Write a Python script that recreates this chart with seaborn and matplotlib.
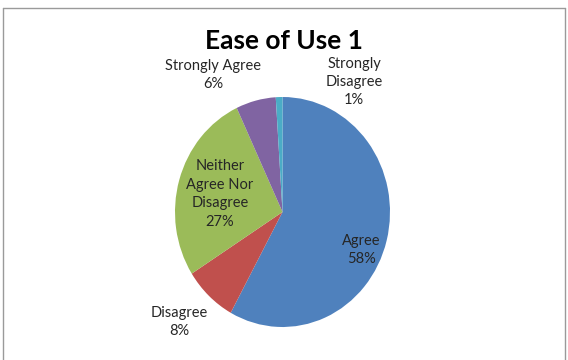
import matplotlib
matplotlib.use("Agg")
import matplotlib.pyplot as plt
import seaborn as sns
from matplotlib.lines import Line2D

categories = ["Agree", "Disagree", "Neither\nAgree Nor\nDisagree", "Strongly Agree", "Strongly\nDisagree"]
values = [58, 8, 27, 6, 1]
colors = ["#4F81BD", "#C0504D", "#9BBB59", "#8064A2", "#4BACC6"]
title = "Ease of Use 1"

sns.set_style("white")
plt.rcParams["font.family"] = ["Lato", "DejaVu Sans"]

W, H = 568, 360
fig = plt.figure(figsize=(W / 100, H / 100), dpi=100)
ax = fig.add_axes([0, 0, 1, 1])

# pie is slightly squeezed horizontally in the reference
kx = 107.5 / 115.0          # pixels per data unit in x
cx, cy, r = 282.5 / kx, H - 212, 115
ax.pie(values, colors=colors, startangle=90, counterclock=False,
       center=(cx, cy), radius=r, frame=True,
       wedgeprops=dict(linewidth=0))
ax.set_aspect("auto")
ax.set_xlim(0, W / kx)
ax.set_ylim(0, H)
ax.axis("off")

label_pos = [(361, 250), (179, 322), (220, 194), (213, 75), (354, 82)]
for cat, v, (x, y) in zip(categories, values, label_pos):
    ax.text(x / kx, H - y, f"{cat}\n{v}%", ha="center", va="center",
            fontsize=10.5, color="#262626", linespacing=1.4)

ax.text(284 / kx, H - 41, title, ha="center", va="center", fontsize=19,
        fontweight="bold", color="black")

# chart frame
fx0, fx1, fy1 = 3 / W, 565 / W, 1 - 8 / H
for xs, ys in [([fx0, fx0], [0, fy1]), ([fx0, fx1], [fy1, fy1]), ([fx1, fx1], [fy1, 0])]:
    fig.add_artist(Line2D(xs, ys, transform=fig.transFigure, color="#9a9a9a", lw=1))

fig.savefig("out.png", dpi=100)
